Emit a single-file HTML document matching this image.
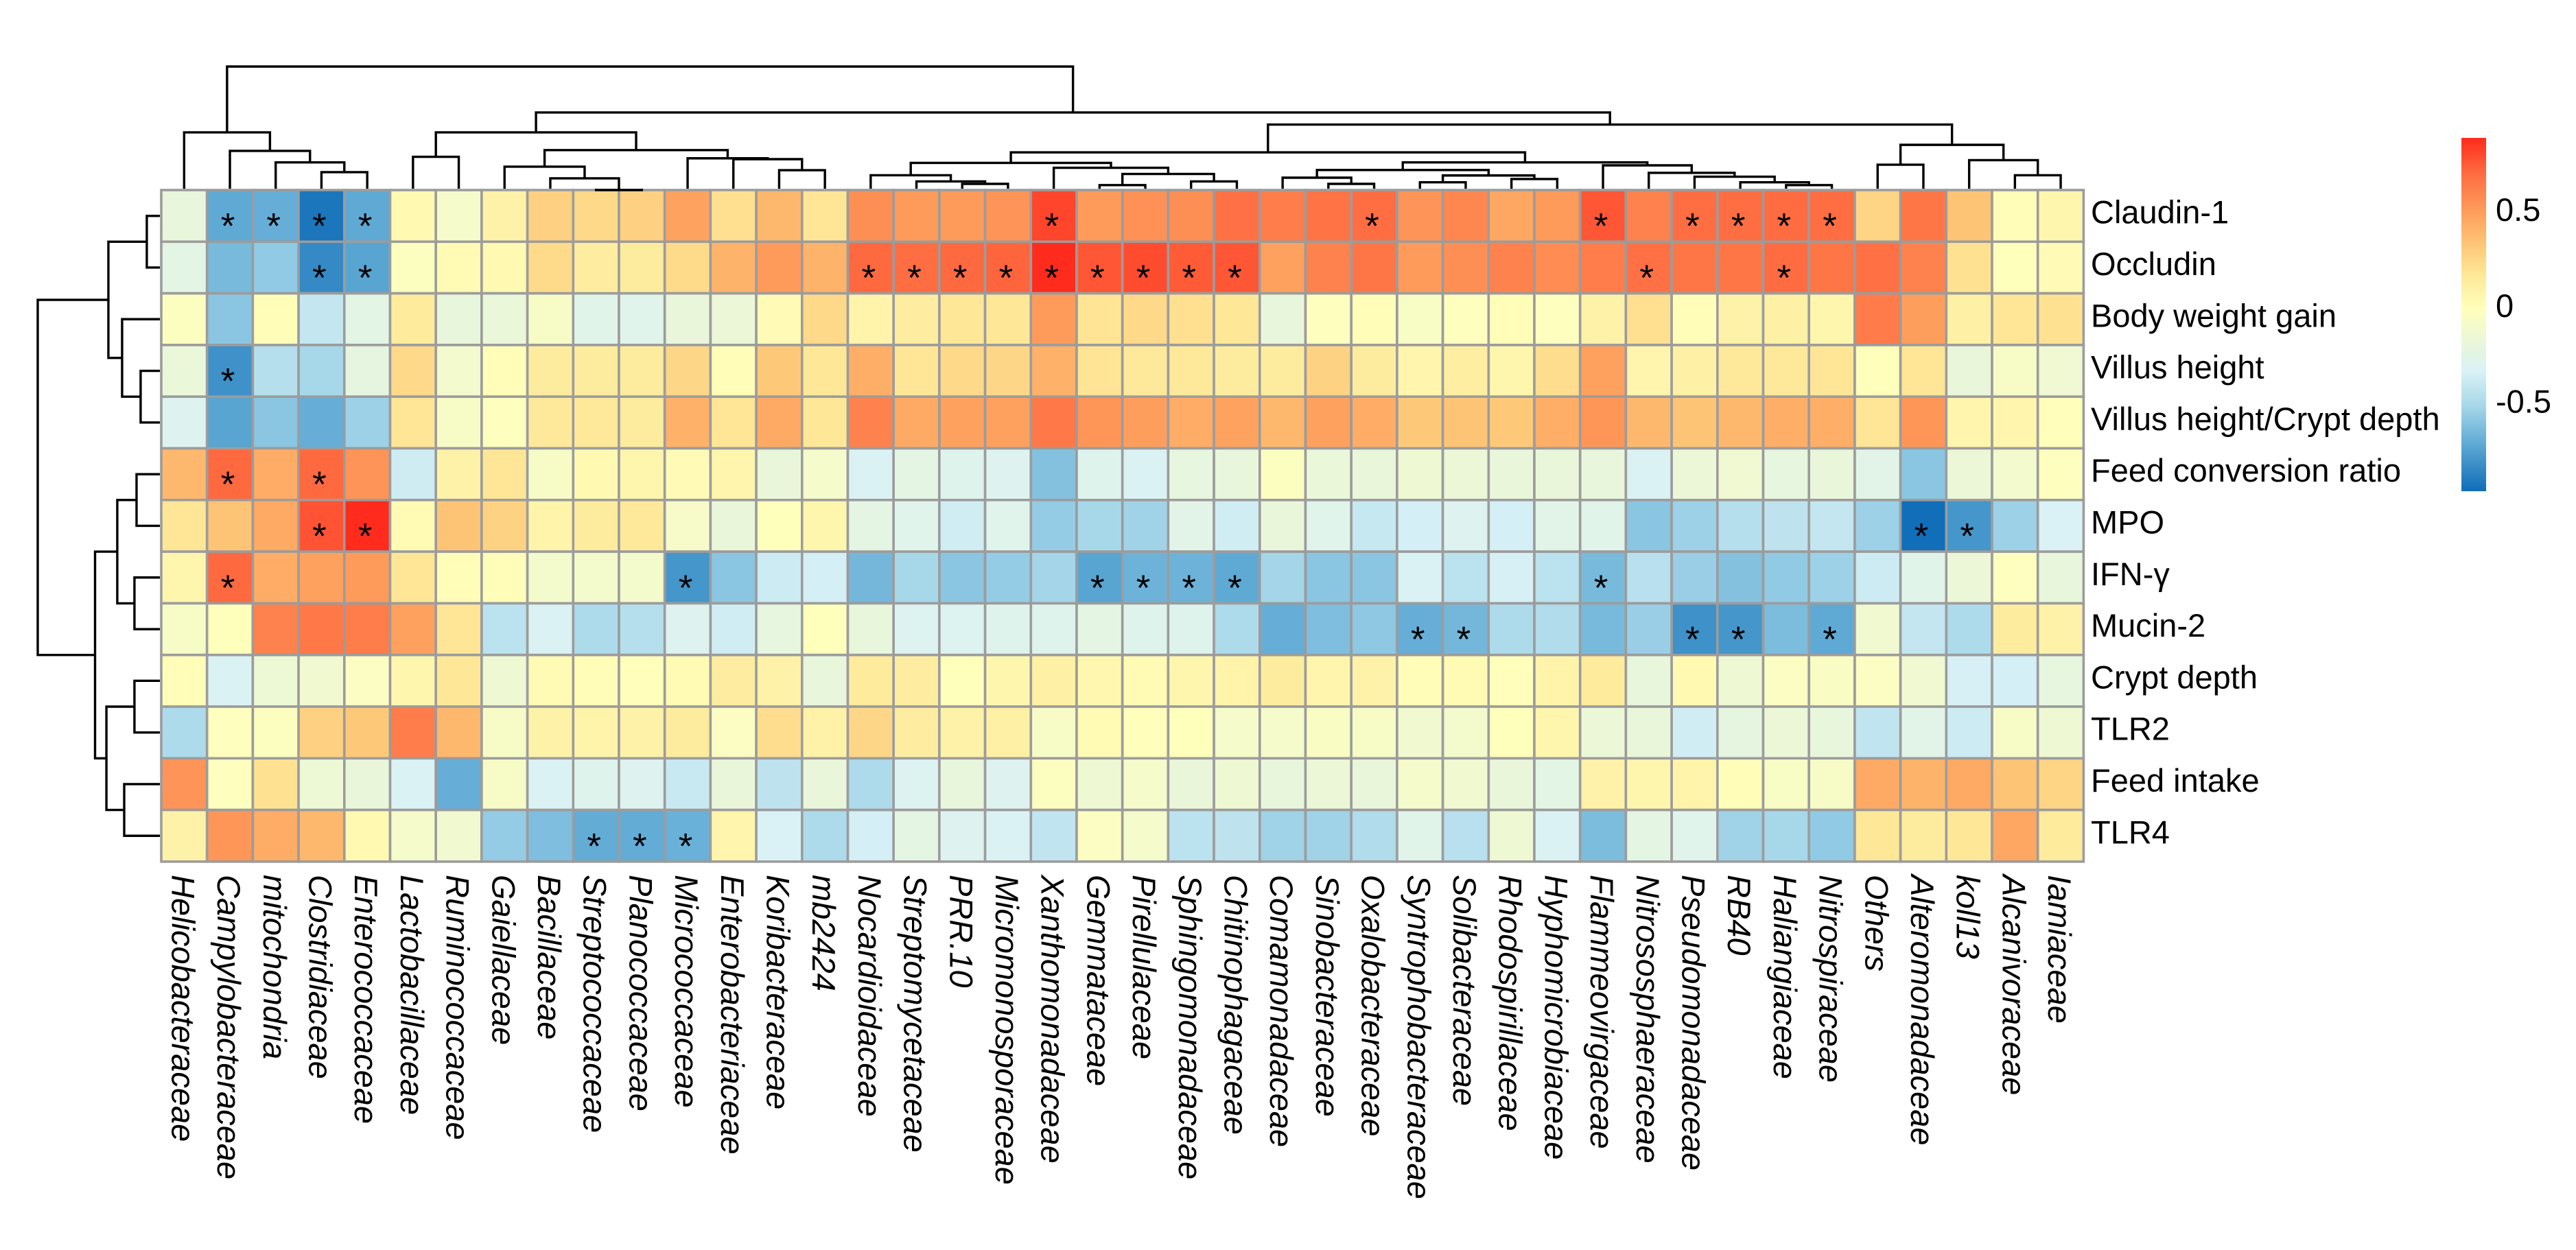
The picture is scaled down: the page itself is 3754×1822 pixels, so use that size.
<!DOCTYPE html>
<html lang="en">
<head>
<meta charset="utf-8">
<title>Correlation heatmap</title>
<style>
html,body{margin:0;padding:0;background:#fff;}
svg{display:block;font-family:"Liberation Sans",Arial,sans-serif;}
</style>
</head>
<body>
<svg id="chart" xmlns="http://www.w3.org/2000/svg" width="3754" height="1822" viewBox="0 0 3754 1822">
<rect width="3754" height="1822" fill="#ffffff"/>
</svg>
<script>
const rowLabels = ["Claudin-1","Occludin","Body weight gain","Villus height","Villus height/Crypt depth","Feed conversion ratio","MPO","IFN-γ","Mucin-2","Crypt depth","TLR2","Feed intake","TLR4"];
const colLabels = ["Helicobacteraceae","Campylobacteraceae","mitochondria","Clostridiaceae","Enterococcaceae","Lactobacillaceae","Ruminococcaceae","Gaiellaceae","Bacillaceae","Streptococcaceae","Planococcaceae","Micrococcaceae","Enterobacteriaceae","Koribacteraceae","mb2424","Nocardioidaceae","Streptomycetaceae","PRR.10","Micromonosporaceae","Xanthomonadaceae","Gemmataceae","Pirellulaceae","Sphingomonadaceae","Chitinophagaceae","Comamonadaceae","Sinobacteraceae","Oxalobacteraceae","Syntrophobacteraceae","Solibacteraceae","Rhodospirillaceae","Hyphomicrobiaceae","Flammeovirgaceae","Nitrososphaeraceae","Pseudomonadaceae","RB40","Haliangiaceae","Nitrospiraceae","Others","Alteromonadaceae","koll13","Alcanivoraceae","Iamiaceae"];

const claudin1 = [-.2,-.72,-.7,-.93,-.72,.03,-.1,.08,.27,.23,.27,.47,.2,.38,.17,.55,.5,.5,.53,.8,.5,.54,.55,.67,.62,.66,.68,.53,.58,.45,.5,.75,.6,.68,.68,.69,.68,.25,.65,.33,0,.05];
const occludin = [-.25,-.65,-.58,-.85,-.74,-.04,.02,.03,.22,.12,.13,.22,.4,.5,.4,.7,.68,.7,.71,.87,.75,.78,.74,.75,.48,.6,.65,.5,.55,.6,.56,.62,.67,.65,.65,.69,.65,.67,.6,.19,-.02,.01];
const bodyWeightGain = [-.04,-.6,0,-.42,-.25,.14,-.2,-.18,-.08,-.27,-.28,-.19,-.17,.01,.23,.07,.12,.16,.16,.5,.18,.23,.2,.16,-.2,-.03,0,-.07,-.03,0,-.03,.08,.2,0,.08,.1,.05,.63,.49,.1,.17,.19];
const villusHeight = [-.18,-.82,-.47,-.52,-.22,.23,-.12,0,.13,.13,.13,.24,0,.31,.16,.42,.17,.23,.24,.41,.18,.15,.15,.13,.13,.26,.13,.06,.11,.05,.21,.48,.06,.1,.15,.15,.17,-.01,.17,-.19,-.08,-.14];
const villusCrypt = [-.3,-.74,-.6,-.7,-.55,.17,-.08,-.03,.15,.15,.13,.41,.17,.44,.16,.6,.44,.48,.48,.64,.52,.49,.43,.47,.38,.48,.43,.31,.33,.31,.42,.52,.38,.33,.38,.42,.42,.17,.52,.06,.06,-.01];
const feedConversion = [.38,.7,.43,.7,.53,-.38,.08,.17,-.08,.03,.05,.01,.06,-.19,-.1,-.33,-.24,-.29,-.3,-.62,-.29,-.33,-.21,-.2,-.04,-.18,-.19,-.15,-.17,-.19,-.19,-.2,-.33,-.17,-.14,-.21,-.19,-.26,-.6,-.17,-.12,-.03];
const mpo = [.17,.33,.44,.76,.87,.02,.33,.26,.07,.13,.15,-.09,-.19,-.02,.05,-.24,-.28,-.37,-.28,-.57,-.52,-.54,-.26,-.37,-.19,-.28,-.41,-.36,-.3,-.36,-.26,-.27,-.6,-.55,-.47,-.44,-.42,-.55,-.96,-.8,-.55,-.34];
const ifnGamma = [.05,.7,.43,.48,.5,.17,0,0,-.11,-.11,-.11,-.8,-.6,-.39,-.36,-.66,-.52,-.6,-.57,-.53,-.74,-.68,-.68,-.72,-.53,-.6,-.6,-.33,-.45,-.35,-.45,-.65,-.46,-.56,-.62,-.58,-.55,-.39,-.27,-.17,-.03,-.2];
const mucin2 = [-.08,-.02,.6,.64,.62,.48,.17,-.45,-.33,-.5,-.47,-.3,-.37,-.21,-.02,-.2,-.31,-.31,-.29,-.29,-.24,-.29,-.29,-.5,-.7,-.63,-.59,-.7,-.66,-.5,-.49,-.65,-.56,-.82,-.8,-.64,-.72,-.13,-.42,-.5,.13,.08];
const cryptDepth = [0,-.33,-.16,-.13,-.05,.05,.16,-.15,.02,0,-.01,.02,.12,.08,-.2,.14,.12,-.02,.05,.1,.04,.02,.05,.07,.13,.06,.08,0,.02,-.01,.07,.14,-.2,.03,-.15,-.05,-.06,-.05,-.14,-.35,-.36,-.21];
const tlr2 = [-.5,-.03,-.04,.27,.31,.62,.38,-.08,.08,.07,.08,.13,-.05,.21,.08,.24,.12,.08,.1,-.08,.02,-.01,-.02,-.1,-.1,-.06,-.08,-.13,-.11,-.02,.05,-.17,-.19,-.37,-.22,-.17,-.2,-.43,-.26,-.39,-.08,-.15];
const feedIntake = [.53,-.03,.19,-.16,-.19,-.33,-.7,-.08,-.33,-.29,-.3,-.4,-.19,-.44,-.19,-.5,-.32,-.2,-.3,-.04,-.15,-.1,-.19,-.15,-.2,-.17,-.19,-.1,-.13,-.19,-.25,.08,.05,.07,0,-.07,-.08,.44,.4,.44,.33,.25];
const tlr4 = [.08,.52,.43,.38,.03,-.1,-.13,-.57,-.63,-.71,-.71,-.69,.06,-.34,-.5,-.36,-.24,-.3,-.33,-.43,-.05,-.1,-.45,-.44,-.54,-.54,-.49,-.27,-.46,-.15,-.33,-.64,-.24,-.28,-.54,-.52,-.58,.16,.13,.16,.45,.14];
const matrix = [claudin1,occludin,bodyWeightGain,villusHeight,villusCrypt,feedConversion,mpo,ifnGamma,mucin2,cryptDepth,tlr2,feedIntake,tlr4];

/* significant cells: [row index, column index] */
const significantCells = [[0,1],[0,2],[0,3],[0,4],[0,19],[0,26],[0,31],[0,33],[0,34],[0,35],[0,36],
[1,3],[1,4],[1,15],[1,16],[1,17],[1,18],[1,19],[1,20],[1,21],[1,22],[1,23],[1,32],[1,35],
[3,1],[5,1],[5,3],[6,3],[6,4],[6,38],[6,39],
[7,1],[7,11],[7,20],[7,21],[7,22],[7,23],[7,31],
[8,27],[8,28],[8,33],[8,34],[8,36],[12,9],[12,10],[12,11]];

/* clustering trees: [merge height, left, right]; a plain number is a leaf index */
const colTree = [1,[.467,0,[.317,1,[.224,2,[.145,3,4]]]],[.628,[.467,[.269,5,6],[.323,[.189,7,[.095,8,[0,9,10]]],[.257,11,[.25,12,[.161,13,14]]]]],[.53,[.305,[.22,[.12,15,[.07,16,[.05,17,18]]],[.18,19,[.13,[.04,20,21],[.07,22,23]]]],[.224,[.162,[.1,24,[.05,25,26]],[.118,[.063,27,28],[.089,29,30]]],[.2,31,[.139,32,[.108,33,[.063,34,[.04,35,36]]]]]]],[.366,[.205,37,38],[.242,39,[.12,40,41]]]]]];
const rowTree = [1,[.428,[.117,0,1],[.317,2,[.167,3,4]]],[.536,[.356,[.2,5,6],[.217,7,8]],[.444,[.217,9,10],[.3,11,12]]]];

const legendTicks = [0.5,0,-0.5];
const colorStopValues = [.876,.697,.505,.313,.16,-.019,-.199,-.339,-.518,-.71,-.966];
const colorStopHexes = ["#ff2a1c","#ff6a40","#fe9a5a","#fdc878","#fee898","#ffffbc","#e8f6dc","#daf2f6","#a8d8ea","#62acd6","#0f6db8"];

const svgNS = "http://www.w3.org/2000/svg";
const svg = document.getElementById("chart");

const gridLeft = 235, gridTop = 277, cellW = 66.7, cellH = 75.3;
const treeSpan = 180;
const legendX = 3587, legendW = 36, legendTop = 201, legendBottom = 716;

function xScale(i){ return gridLeft + cellW * i; }
function yScale(j){ return gridTop + cellH * j; }
function topTreeY(h){ return gridTop - h * treeSpan; }
function leftTreeX(h){ return gridLeft - h * treeSpan; }
function legendY(v){ return legendTop + (colorStopValues[0] - v) / (colorStopValues[0] - colorStopValues[colorStopValues.length-1]) * (legendBottom - legendTop); }

function hexToRgb(h){ return [parseInt(h.slice(1,3),16),parseInt(h.slice(3,5),16),parseInt(h.slice(5,7),16)]; }
function colorScale(v){
  const n = colorStopValues.length;
  if (v >= colorStopValues[0]) return colorStopHexes[0];
  if (v <= colorStopValues[n-1]) return colorStopHexes[n-1];
  for (let k = 0; k < n-1; k++){
    const hi = colorStopValues[k], lo = colorStopValues[k+1];
    if (v <= hi && v >= lo){
      const t = (hi - v) / (hi - lo), a = hexToRgb(colorStopHexes[k]), b = hexToRgb(colorStopHexes[k+1]);
      return "rgb(" + a.map((c,m) => Math.round(c + (b[m]-c)*t)).join(",") + ")";
    }
  }
}

function mk(tag, attrs, parent){
  const el = document.createElementNS(svgNS, tag);
  for (const key in attrs) el.setAttribute(key, attrs[key]);
  (parent || svg).appendChild(el);
  return el;
}

/* heatmap cells */
const cellsGroup = mk("g", {});


matrix.forEach((row, j) => {
  row.forEach((v, i) => {
    const cell = mk("rect", {x:xScale(i), y:yScale(j), width:cellW, height:cellH, fill:colorScale(v), stroke:"#9c9c9c", "stroke-width":3.6}, cellsGroup);
    
    
  });
});

/* significance stars */
significantCells.forEach(pair => {
  const star = mk("text", {x:xScale(pair[1]) + cellW/2 - 3, y:yScale(pair[0]) + cellH/2 + 33, "font-size":53, "text-anchor":"middle", fill:"#000"});
  
  
  star.textContent = "*";
});

/* dendrograms */
function drawColNode(node){
  if (typeof node === "number") return {x:xScale(node) + cellW/2, y:gridTop - 2};
  const a = drawColNode(node[1]), b = drawColNode(node[2]), y = topTreeY(node[0]);
  const link = mk("path", {d:`M${a.x} ${a.y}V${y}H${b.x}V${b.y}`, fill:"none", stroke:"#000", "stroke-width":3.4});
  
  
  return {x:(a.x + b.x)/2, y:y};
}
function drawRowNode(node){
  if (typeof node === "number") return {x:gridLeft - 2, y:yScale(node) + cellH/2};
  const a = drawRowNode(node[1]), b = drawRowNode(node[2]), x = leftTreeX(node[0]);
  const link = mk("path", {d:`M${a.x} ${a.y}H${x}V${b.y}H${b.x}`, fill:"none", stroke:"#000", "stroke-width":3.4});
  
  
  return {x:x, y:(a.y + b.y)/2};
}
drawColNode(colTree);
drawRowNode(rowTree);

/* row labels */
rowLabels.forEach((label, j) => {
  const t = mk("text", {x:3047, y:yScale(j) + cellH/2 + 11, "font-size":47, fill:"#000"});
  
  
  t.textContent = label;
});

/* column labels */
colLabels.forEach((label, i) => {
  const cx = xScale(i) + cellW/2;
  const t = mk("text", {transform:`translate(${cx - 18} 1275) rotate(90)`, x:0, y:0, "font-size":47, "font-style":"italic", fill:"#000"});
  
  
  t.textContent = label;
});

/* colour legend */
const defs = mk("defs", {});
const grad = mk("linearGradient", {id:"legendGradient", x1:0, y1:0, x2:0, y2:1}, defs);
colorStopValues.forEach((v, k) => {
  mk("stop", {offset:(legendY(v) - legendTop)/(legendBottom - legendTop), "stop-color":colorStopHexes[k]}, grad);
});
const bar = mk("rect", {x:legendX, y:legendTop, width:legendW, height:legendBottom - legendTop, fill:"url(#legendGradient)"});


legendTicks.forEach(v => {
  const t = mk("text", {x:3637, y:legendY(v) + 16, "font-size":47, fill:"#000"});
  
  
  t.textContent = String(v);
});
</script>
</body>
</html>
